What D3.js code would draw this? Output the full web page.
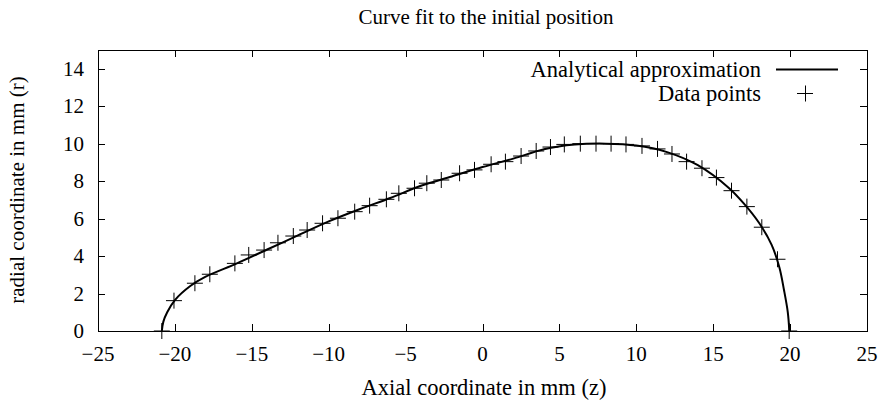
<!DOCTYPE html>
<html>
<head>
<meta charset="utf-8">
<script src="https://cdn.jsdelivr.net/npm/d3@7"></script>
<style>
  body { margin: 0; background: #fff; }
  text { font-family: "Liberation Serif", "Times New Roman", Times, serif; }
</style>
</head>
<body>
<div id="chart"></div>
<script>
// measured points (z, r) in mm
const pointZ = [-20.85, -20.06, -18.7, -17.73, -16.1, -15.2, -14.2, -13.3, -12.3, -11.4, -10.4,
  -9.4, -8.31, -7.34, -6.25, -5.44, -4.42, -3.62, -2.68, -1.49, -0.52, 0.56,
  1.49, 2.51, 3.49, 4.42, 5.32, 6.36, 7.38, 8.36, 9.33, 10.37, 11.38,
  12.32, 13.27, 14.27, 15.21, 16.19, 17.19, 18.16, 19.18, 19.94];
const pointR = [0, 1.62, 2.55, 3.03, 3.61, 4.06, 4.32, 4.71, 5.07, 5.39, 5.75,
  6.02, 6.37, 6.69, 7.03, 7.35, 7.62, 7.89, 8.06, 8.42, 8.60, 8.90,
  9.04, 9.34, 9.61, 9.82, 9.96, 10.0, 10.0, 10.0, 9.96, 9.88, 9.72,
  9.45, 9.04, 8.69, 8.19, 7.49, 6.64, 5.54, 3.83, 0];

// analytical approximation
const fitZ = [-20.85, -20.75, -20.5, -20.0, -19, -18, -16, -14, -12, -10, -8, -6, -4, -2, 0,
  2, 4, 6, 8, 10, 12, 14, 16, 17, 18, 18.8, 19.3, 19.6, 19.85, 19.95];
const fitR = [0, 0.5, 1.0, 1.65, 2.4, 2.9, 3.6, 4.35, 5.1, 5.85, 6.5, 7.1, 7.75, 8.25, 8.75,
  9.2, 9.7, 9.95, 10.0, 9.9, 9.55, 8.85, 7.65, 6.8, 5.75, 4.6, 3.4, 2.2, 1.0, 0];

const xTicks = [-25, -20, -15, -10, -5, 0, 5, 10, 15, 20, 25];
const yTicks = [0, 2, 4, 6, 8, 10, 12, 14];

const width = 882, height = 401;
const margin = {left: 98, top: 50, right: 15, bottom: 70};
const tickSize = '21px', labelSize = '22.5px';

const svg = d3.select('#chart').append('svg')
  .attr('width', width)
  .attr('height', height);

const x = d3.scaleLinear().domain([-25, 25]).range([margin.left, width - margin.right]);
const y = d3.scaleLinear().domain([0, 15]).range([height - margin.bottom, margin.top]);

const fmt = d => d < 0 ? '\u2212' + Math.abs(d) : '' + d;
const tick = 7;

// ticks on all four sides, pointing inwards
const axes = svg.append('g').attr('stroke', '#000').attr('stroke-width', 1);
xTicks.forEach(t => {
  const px = Math.round(x(t)) + 0.5;
  axes.append('line').attr('x1', px).attr('x2', px).attr('y1', y(0)).attr('y2', y(0) - tick);
  axes.append('line').attr('x1', px).attr('x2', px).attr('y1', y(15)).attr('y2', y(15) + tick);
});
yTicks.forEach(t => {
  const py = Math.round(y(t)) + 0.5;
  axes.append('line').attr('x1', x(-25)).attr('x2', x(-25) + tick).attr('y1', py).attr('y2', py);
  axes.append('line').attr('x1', x(25)).attr('x2', x(25) - tick).attr('y1', py).attr('y2', py);
});
axes.append('rect')
  .attr('x', Math.round(x(-25)) + 0.5).attr('y', Math.round(y(15)) + 0.5)
  .attr('width', Math.round(x(25)) - Math.round(x(-25)))
  .attr('height', Math.round(y(0)) - Math.round(y(15)))
  .attr('fill', 'none');

svg.append('g').selectAll('text').data(xTicks).join('text')
  .attr('x', d => x(d)).attr('y', y(0) + 30)
  .attr('text-anchor', 'middle').attr('font-size', tickSize)
  .text(fmt);

svg.append('g').selectAll('text').data(yTicks).join('text')
  .attr('x', x(-25) - 14).attr('y', d => y(d) + 7)
  .attr('text-anchor', 'end').attr('font-size', tickSize)
  .text(fmt);

// titles
svg.append('text').attr('x', 486).attr('y', 24).attr('text-anchor', 'middle')
  .attr('font-size', tickSize).text('Curve fit to the initial position');
svg.append('text').attr('x', 484).attr('y', 395).attr('text-anchor', 'middle')
  .attr('font-size', labelSize).text('Axial coordinate in mm (z)');
svg.append('text').attr('transform', 'translate(24,190) rotate(-90)').attr('text-anchor', 'middle')
  .attr('font-size', tickSize).text('radial coordinate in mm (r)');

// fit curve
const fit = fitZ.map((z, i) => ({z, r: fitR[i]}));
const line = d3.line().curve(d3.curveCatmullRom.alpha(0.5))
  .x(d => x(d.z)).y(d => y(d.r));
svg.append('path').datum(fit)
  .attr('d', line).attr('fill', 'none').attr('stroke', '#000').attr('stroke-width', 2);

// data points
const pts = pointZ.map((z, i) => ({z, r: pointR[i]}));
const plus = 8;
const marks = svg.append('g').attr('stroke', '#000').attr('stroke-width', 1);
pts.forEach(d => {
  const px = x(d.z), py = y(d.r);
  marks.append('line').attr('x1', px - plus).attr('x2', px + plus).attr('y1', py).attr('y2', py);
  marks.append('line').attr('x1', px).attr('x2', px).attr('y1', py - plus).attr('y2', py + plus);
});

// legend
const legend = svg.append('g');
legend.append('text').attr('x', 761).attr('y', 77).attr('text-anchor', 'end')
  .attr('font-size', labelSize).text('Analytical approximation');
legend.append('line').attr('x1', 776).attr('x2', 838).attr('y1', 69.5).attr('y2', 69.5)
  .attr('stroke', '#000').attr('stroke-width', 2);
legend.append('text').attr('x', 761).attr('y', 101).attr('text-anchor', 'end')
  .attr('font-size', labelSize).text('Data points');
legend.append('line').attr('x1', 805 - plus).attr('x2', 805 + plus).attr('y1', 93.5).attr('y2', 93.5)
  .attr('stroke', '#000');
legend.append('line').attr('x1', 805.5).attr('x2', 805.5).attr('y1', 93.5 - plus).attr('y2', 93.5 + plus)
  .attr('stroke', '#000');
</script>
</body>
</html>
